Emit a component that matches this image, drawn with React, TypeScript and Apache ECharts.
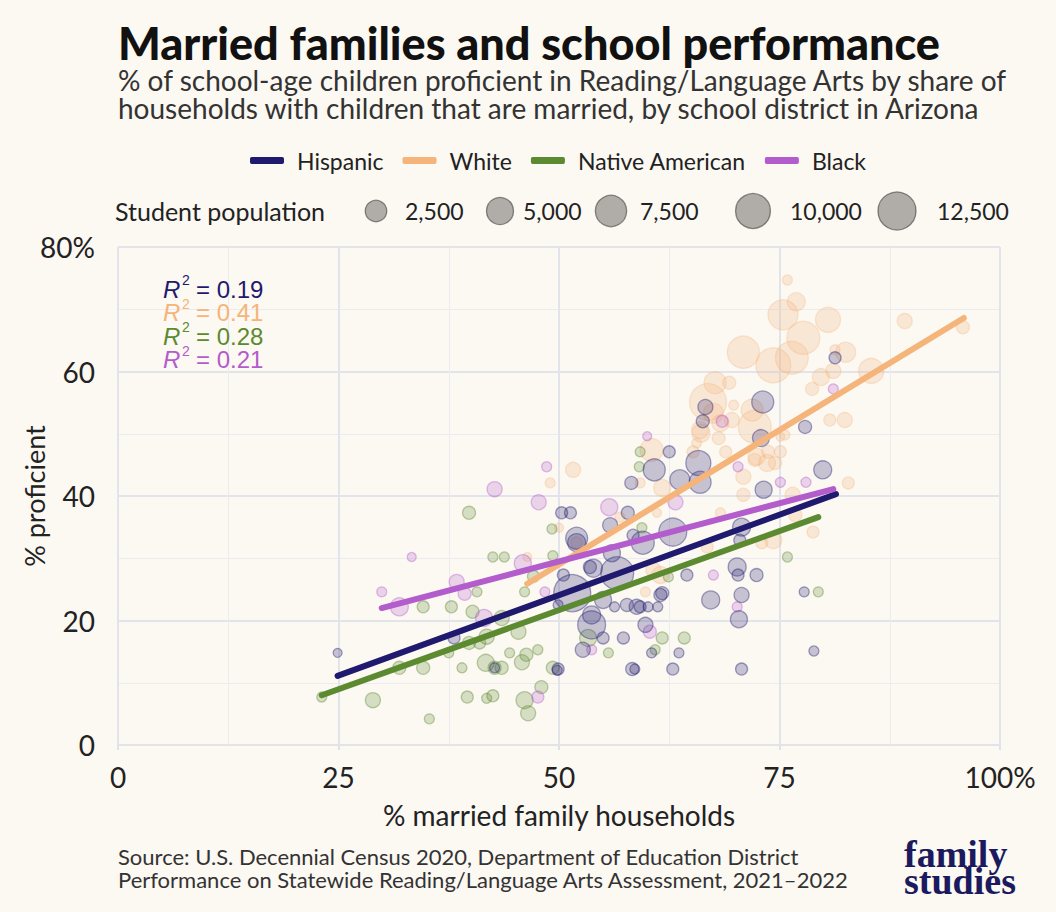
import React, { useEffect, useRef } from "react";
import * as echarts from "echarts";

// ---------- data ----------
const groups = ["Hispanic", "White", "Native American", "Black"];
const groupColors = ["#1f1a6e", "#f4b47a", "#5c8a30", "#b35ccc"];

// [% married family households, % proficient, student population]
const hispanicPoints: number[][] = [
  [24.9, 14.8, 10], [38.1, 17.2, 210], [42.7, 12.4, 50], [49.8, 12.0, 50],
  [49.9, 12.2, 210], [49.9, 22.5, 50], [50.3, 37.3, 210], [51.3, 37.3, 210],
  [50.5, 27.3, 210], [51.5, 24.4, 11700], [52.0, 33.2, 2700], [52.0, 32.5, 1360],
  [52.7, 15.3, 660], [53.5, 28.6, 330], [53.7, 19.3, 5500], [53.9, 28.4, 1360],
  [53.7, 20.9, 1360], [55.0, 23.3, 1100], [55.0, 17.2, 210], [55.8, 35.3, 660],
  [56.0, 30.8, 1100], [56.3, 22.2, 50], [56.6, 27.6, 8600], [57.3, 17.2, 210],
  [57.7, 22.5, 330], [57.8, 37.3, 330], [58.2, 42.1, 330], [58.3, 12.2, 330],
  [58.6, 12.2, 50], [58.4, 33.7, 210], [58.8, 22.2, 660], [59.2, 22.2, 210],
  [60.1, 22.2, 50], [59.5, 32.5, 3100], [59.8, 19.3, 660], [60.5, 14.8, 50],
  [60.8, 44.2, 2700], [61.2, 22.2, 50], [61.5, 24.1, 330], [61.7, 24.4, 330],
  [62.5, 47.1, 210], [62.9, 34.2, 5500], [62.9, 12.2, 210], [63.6, 14.8, 50],
  [63.7, 42.6, 1970], [64.5, 27.3, 210], [65.8, 45.3, 4000], [66.0, 42.2, 2700],
  [66.3, 52.0, 330], [66.6, 54.3, 660], [67.2, 23.3, 1360], [70.2, 28.6, 1360],
  [70.3, 27.3, 210], [70.4, 20.2, 1100], [70.5, 32.9, 210], [70.7, 35.0, 1360],
  [70.7, 24.1, 660], [70.7, 12.2, 210], [72.4, 27.3, 330], [72.9, 49.3, 1100],
  [73.1, 55.1, 2700], [73.2, 41.0, 1100], [77.8, 24.6, 50], [77.9, 51.1, 330],
  [78.9, 15.1, 50], [79.9, 44.2, 1360], [81.3, 62.2, 210],
];

const whitePoints: number[][] = [
  [46.4, 30.2, 10], [49.0, 42.1, 50], [50.0, 34.9, 10], [51.6, 44.2, 660],
  [52.0, 32.5, 210], [56.9, 36.6, 50], [59.2, 42.1, 50], [59.8, 24.6, 50],
  [60.5, 47.4, 3100], [60.7, 28.1, 660], [61.1, 37.3, 10], [61.5, 27.3, 1100],
  [61.7, 41.3, 1100], [65.2, 47.1, 210], [65.6, 48.5, 50], [66.0, 50.6, 1100],
  [66.1, 50.1, 1360], [66.8, 31.8, 210], [66.9, 55.1, 11700], [67.5, 53.3, 1970],
  [67.7, 58.2, 2700], [68.1, 49.3, 330], [68.3, 51.7, 1100], [68.3, 37.3, 50],
  [68.9, 47.1, 210], [69.3, 58.2, 330], [69.6, 52.2, 660], [69.8, 54.6, 50],
  [70.9, 63.1, 8000], [70.9, 43.1, 660], [70.9, 40.2, 330], [71.9, 53.8, 2700],
  [72.2, 51.1, 8600], [72.2, 45.8, 330], [72.4, 46.3, 1100], [73.0, 32.5, 210],
  [73.6, 45.3, 1100], [73.7, 47.1, 330], [74.3, 61.0, 10100], [74.3, 32.9, 1100],
  [74.5, 45.3, 330], [75.1, 47.1, 210], [75.1, 49.5, 10], [75.4, 69.1, 6700],
  [75.6, 49.8, 50], [75.9, 74.7, 50], [76.4, 62.2, 8600], [76.5, 40.2, 660],
  [76.8, 36.9, 330], [76.9, 71.2, 1360], [77.7, 65.4, 8600], [78.7, 57.2, 330],
  [78.8, 34.2, 210], [79.7, 59.1, 1100], [80.5, 68.3, 4000], [80.7, 52.2, 210],
  [81.1, 60.1, 660], [81.3, 63.5, 50], [82.4, 52.2, 660], [82.5, 63.1, 1970],
  [82.8, 42.1, 210], [85.4, 60.1, 4000], [89.2, 68.1, 660], [95.8, 67.1, 330],
];

const nativePoints: number[][] = [
  [23.1, 7.7, 50], [28.9, 7.2, 660], [31.9, 12.4, 330], [34.6, 12.4, 330],
  [34.6, 22.2, 210], [35.3, 4.2, 50], [37.5, 14.8, 50], [37.8, 22.2, 210],
  [39.0, 12.4, 50], [39.6, 7.7, 210], [39.8, 37.3, 330], [39.8, 16.4, 330],
  [40.2, 21.4, 330], [40.7, 24.6, 50], [41.0, 16.4, 210], [41.7, 13.2, 1100],
  [41.8, 17.4, 660], [41.8, 7.5, 50], [42.5, 30.2, 50], [42.5, 7.9, 210],
  [42.7, 12.4, 330], [43.5, 20.4, 660], [43.5, 12.4, 330], [43.8, 30.2, 50],
  [44.4, 14.8, 50], [45.4, 18.2, 660], [45.8, 13.3, 660], [46.1, 24.6, 50],
  [46.1, 7.2, 1100], [46.3, 14.5, 330], [46.5, 5.1, 660], [47.1, 27.1, 210],
  [47.6, 15.3, 50], [48.0, 9.3, 330], [49.2, 34.7, 50], [49.3, 12.4, 330],
  [49.3, 30.4, 50], [53.3, 17.2, 1100], [55.6, 14.8, 50], [59.1, 44.7, 50],
  [59.2, 47.1, 50], [59.4, 34.9, 50], [60.9, 15.3, 50], [61.7, 17.2, 210],
  [62.4, 27.0, 50], [64.2, 17.2, 210], [75.9, 30.2, 50], [79.4, 24.6, 50],
];

const blackPoints: number[][] = [
  [29.9, 24.6, 50], [31.9, 22.2, 1360], [33.3, 30.2, 10], [38.4, 26.2, 660],
  [39.3, 24.3, 330], [41.5, 20.4, 1100], [42.7, 41.1, 660], [45.9, 29.2, 1100],
  [47.6, 7.7, 210], [47.7, 39.0, 660], [48.4, 24.6, 50], [48.6, 44.7, 50],
  [53.7, 15.3, 50], [55.7, 38.2, 1100], [60.0, 49.6, 10], [60.3, 18.2, 330],
  [63.2, 39.0, 660], [67.5, 27.3, 50], [68.5, 52.0, 210], [70.2, 22.2, 50],
  [70.3, 44.7, 50], [75.1, 42.2, 50], [78.0, 42.2, 50], [81.1, 57.2, 50],
];

// linear-fit end points
const hispanicFit: number[][] = [[24.9, 11.1], [81.4, 40.3]];
const whiteFit: number[][] = [[46.4, 25.9], [95.9, 68.6]];
const nativeFit: number[][] = [[23.1, 8.0], [79.4, 36.6]];
const blackFit: number[][] = [[29.9, 22.0], [81.1, 41.1]];

const r2Values = ["0.19", "0.41", "0.28", "0.21"];
const populationLegend = [2500, 5000, 7500, 10000, 12500];
const populationLabels = ["2,500", "5,000", "7,500", "10,000", "12,500"];

const titleText = "Married families and school performance";
const subtitleLines = [
  "% of school-age children proficient in Reading/Language Arts by share of",
  "households with children that are married, by school district in Arizona",
];
const sourceLines = [
  "Source: U.S. Decennial Census 2020, Department of Education District",
  "Performance on Statewide Reading/Language Arts Assessment, 2021\u20132022",
];
const logoLines = ["family", "studies"];

// ---------- helpers ----------
const BG = "#fcf8f2";
const FONT = "Lato, 'Noto Sans', sans-serif";
const SANS = "'Liberation Sans', Arial, sans-serif";

function sizeOf(pop: number): number {
  return 8.15 + 0.267 * Math.sqrt(pop);
}
function rgba(hex: string, a: number): string {
  const n = parseInt(hex.slice(1), 16);
  return `rgba(${(n >> 16) & 255},${(n >> 8) & 255},${n & 255},${a})`;
}

export default function App() {
  const ref = useRef<HTMLDivElement>(null);

  useEffect(() => {
    document.body.style.margin = "0";
    document.body.style.background = BG;
    if (!ref.current) return;
    const chart = echarts.init(ref.current, undefined, { renderer: "svg" });

    const pointSets = [hispanicPoints, whitePoints, nativePoints, blackPoints];
    const fitSets = [hispanicFit, whiteFit, nativeFit, blackFit];

    const scatterSeries = [1, 2, 3, 0].map((gi) => ({
      type: "scatter",
      name: groups[gi] + " districts",
      data: pointSets[gi],
      symbol: "circle",
      symbolSize: (v: number[]) => sizeOf(v[2]),
      itemStyle: {
        color: rgba(groupColors[gi], 0.3),
        borderColor: rgba(groupColors[gi], gi === 1 ? 0.38 : 0.5),
        borderWidth: 1.3,
      },
      emphasis: { disabled: true },
      z: 2,
    }));

    const lineSeries = groups.map((g, gi) => ({
      type: "line",
      name: g,
      data: fitSets[gi],
      symbol: "none",
      showSymbol: false,
      itemStyle: { color: groupColors[gi] },
      lineStyle: { color: groupColors[gi], width: 6, cap: "round" },
      emphasis: { disabled: true },
      z: 3 + gi,
    }));

    const graphics: any[] = [];
    // title & subtitle
    graphics.push({
      type: "text",
      x: 118,
      y: 43,
      style: {
        text: titleText,
        fill: "#111111",
        font: `900 45px ${FONT}`,
        verticalAlign: "middle",
      },
    });
    graphics.push({
      type: "text",
      x: 118,
      y: 66,
      style: {
        text: subtitleLines.join("\n"),
        fill: "#333333",
        font: `28px ${FONT}`,
        lineHeight: 28,
        verticalAlign: "top",
      },
    });
    // size legend
    graphics.push({
      type: "text",
      x: 115,
      y: 211,
      style: { text: "Student population", fill: "#222222", font: `25px ${FONT}`, verticalAlign: "middle" },
    });
    const circleX = [376, 500, 611, 753, 897];
    const labelX = [405, 523, 640, 790, 937];
    populationLegend.forEach((p, i) => {
      graphics.push({
        type: "circle",
        shape: { cx: circleX[i], cy: 211, r: sizeOf(p) / 2 },
        style: { fill: "rgba(0,0,0,0.3)", stroke: "rgba(0,0,0,0.42)", lineWidth: 1.3 },
      });
      graphics.push({
        type: "text",
        x: labelX[i],
        y: 211,
        style: { text: populationLabels[i], fill: "#222222", font: `23px ${FONT}`, verticalAlign: "middle" },
      });
    });
    // R^2 annotations
    r2Values.forEach((v, i) => {
      const y = 289 + i * 23.5;
      const c = groupColors[i];
      graphics.push({
        type: "text",
        x: 163,
        y,
        style: { text: "R", fill: c, font: `italic 24px ${SANS}`, lineHeight: 22, verticalAlign: "middle" },
        z: 10,
      });
      graphics.push({
        type: "text",
        x: 182,
        y: y - 9,
        style: { text: "2", fill: c, font: `14px ${SANS}`, lineHeight: 13, verticalAlign: "middle" },
        z: 10,
      });
      graphics.push({
        type: "text",
        x: 196,
        y,
        style: { text: "= " + v, fill: c, font: `24px ${SANS}`, lineHeight: 22, verticalAlign: "middle" },
        z: 10,
      });
    });
    // source
    graphics.push({
      type: "text",
      x: 118,
      y: 845,
      style: {
        text: sourceLines.join("\n"),
        fill: "#333333",
        font: `22px ${FONT}`,
        lineHeight: 23,
        verticalAlign: "top",
      },
    });
    // logo
    graphics.push({
      type: "text",
      x: 904,
      y: 840,
      style: {
        text: logoLines.join("\n"),
        fill: "#1c1a5e",
        font: `bold 38px 'Liberation Serif', 'DejaVu Serif', serif`,
        lineHeight: 27,
        verticalAlign: "top",
      },
    });

    const option: any = {
      animation: false,
      backgroundColor: BG,
      textStyle: { fontFamily: FONT },
      grid: {
        left: 118,
        right: 56,
        top: 247,
        bottom: 167,
        containLabel: false,
        outerBoundsMode: "none",
      },
      legend: {
        left: 245,
        top: 144,
        itemWidth: 34,
        itemHeight: 7,
        itemGap: 19,
        icon: "roundRect",
        selectedMode: false,
        textStyle: { fontFamily: FONT, fontSize: 23, color: "#222222", padding: [0, 0, 0, 8] },
        data: groups.map((g, i) => ({ name: g, itemStyle: { color: groupColors[i] } })),
      },
      xAxis: {
        type: "value",
        min: 0,
        max: 100,
        interval: 25,
        name: "% married family households",
        nameLocation: "middle",
        nameGap: 56,
        nameMoveOverlap: false,
        nameTextStyle: { fontFamily: FONT, fontSize: 28, color: "#222222" },
        axisLine: { show: false },
        axisTick: { show: true, length: 5, lineStyle: { color: "#e1e1e9", width: 2 } },
        axisLabel: {
          margin: 18,
          fontFamily: FONT,
          fontSize: 28,
          color: "#222222",
          formatter: (v: number) => (v === 100 ? "100%" : String(v)),
        },
        splitLine: { show: true, lineStyle: { color: "#e3e3eb", width: 2 } },
        minorTick: { show: false, splitNumber: 2 },
        minorSplitLine: { show: true, lineStyle: { color: "#ebebf0", width: 1 } },
      },
      yAxis: {
        type: "value",
        min: 0,
        max: 80,
        interval: 20,
        name: "% proficient",
        nameLocation: "middle",
        nameGap: 70,
        nameMoveOverlap: false,
        nameTextStyle: { fontFamily: FONT, fontSize: 27, color: "#222222" },
        axisLine: { show: false },
        axisTick: { show: false },
        axisLabel: {
          margin: 23,
          fontFamily: FONT,
          fontSize: 28,
          color: "#222222",
          formatter: (v: number) => (v === 80 ? "80%" : String(v)),
        },
        splitLine: { show: true, lineStyle: { color: "#e3e3eb", width: 2 } },
        minorTick: { show: false, splitNumber: 2 },
        minorSplitLine: { show: true, lineStyle: { color: "#ebebf0", width: 1 } },
      },
      series: [...scatterSeries, ...lineSeries],
      graphic: graphics,
    };

    chart.setOption(option);
    return () => chart.dispose();
  }, []);

  return <div ref={ref} style={{ width: 1056, height: 912, background: BG }} />;
}
